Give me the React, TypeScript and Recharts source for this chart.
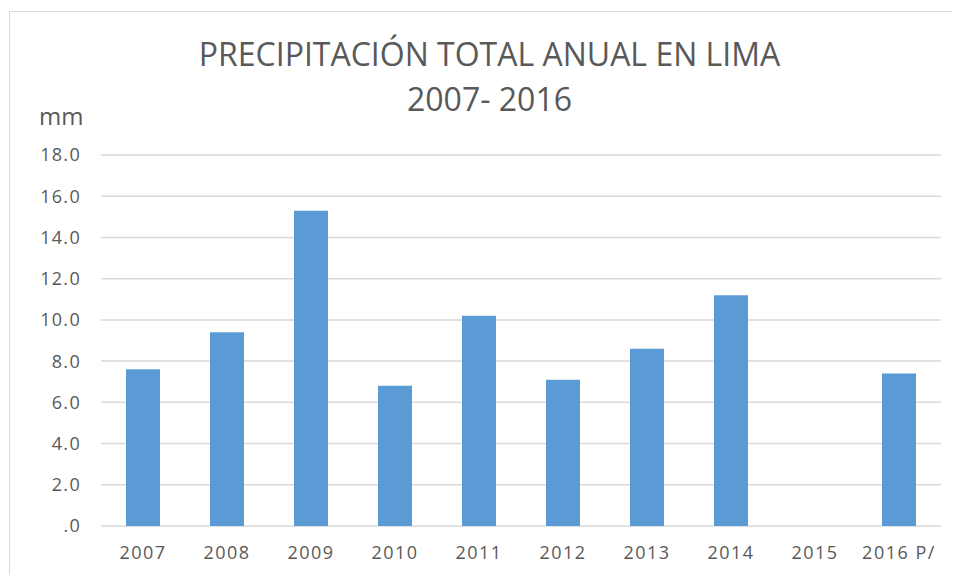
import { BarChart, Bar, XAxis, YAxis, CartesianGrid } from 'recharts';

const years = ['2007', '2008', '2009', '2010', '2011', '2012', '2013', '2014', '2015', '2016 P/'];
const rainfall = [7.6, 9.4, 15.3, 6.8, 10.2, 7.1, 8.6, 11.2, null, 7.4];
const yTicks = [0, 2, 4, 6, 8, 10, 12, 14, 16, 18];

const data = years.map((year, i) => ({ year, mm: rainfall[i] }));

const FONT = '"Open Sans", "Noto Sans", sans-serif';
const TEXT = '#595959';

export default function App() {
  return (
    <div
      style={{
        position: 'relative',
        margin: -8,
        width: 960,
        height: 583,
        overflow: 'hidden',
        background: '#fff',
        fontFamily: FONT,
      }}
    >
      {/* marco del gráfico */}
      <div
        style={{
          position: 'absolute',
          left: 9,
          top: 11,
          width: 1000,
          height: 700,
          border: '1px solid #d9d9d9',
        }}
      />
      <div
        style={{
          position: 'absolute',
          left: 0,
          width: 979,
          top: 31,
          textAlign: 'center',
          color: TEXT,
          fontSize: 32,
          lineHeight: '45px',
        }}
      >
        PRECIPITACIÓN TOTAL ANUAL EN LIMA
        <br />
        2007- 2016
      </div>
      <div
        style={{
          position: 'absolute',
          left: 39,
          top: 101,
          color: TEXT,
          fontSize: 24,
          lineHeight: '30px',
        }}
      >
        mm
      </div>
      <div style={{ position: 'absolute', left: 0, top: 0 }}>
        <BarChart
          width={960}
          height={583}
          data={data}
          margin={{ top: 155, right: 19, bottom: 17, left: 41 }}
        >
          <CartesianGrid vertical={false} stroke="#d9d9d9" strokeWidth={1.5} />
          <XAxis
            dataKey="year"
            axisLine={false}
            tickLine={false}
            height={40}
            tickMargin={14}
            tick={{ fill: TEXT, fontSize: 18, fontFamily: FONT, letterSpacing: 1.5 }}
          />
          <YAxis
            domain={[0, 18]}
            ticks={yTicks}
            interval={0}
            width={60}
            axisLine={false}
            tickLine={false}
            tickMargin={14}
            tickFormatter={(v: number) => (v === 0 ? '.0' : v.toFixed(1))}
            tick={{ fill: TEXT, fontSize: 18, fontFamily: FONT, letterSpacing: 1.3 }}
          />
          <Bar dataKey="mm" fill="#5b9bd5" barSize={34} isAnimationActive={false} />
        </BarChart>
      </div>
    </div>
  );
}
